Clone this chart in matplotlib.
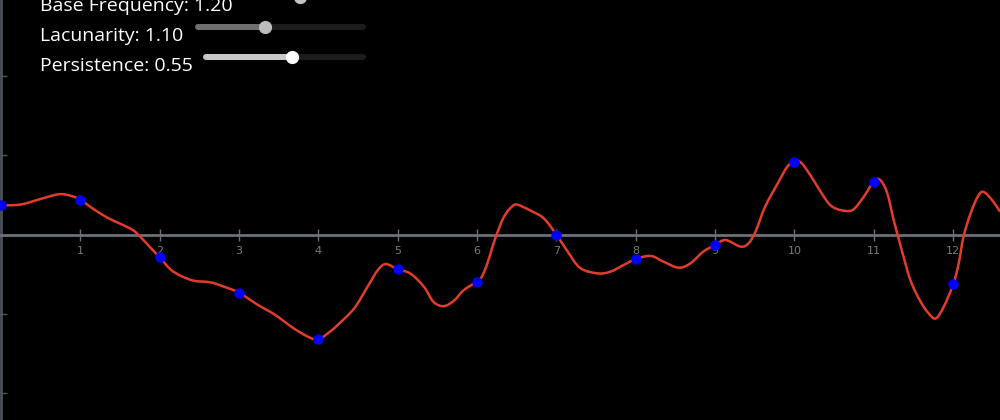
import numpy as np
import matplotlib
matplotlib.use("Agg")
import matplotlib.pyplot as plt
from matplotlib.path import Path
from matplotlib.patches import PathPatch

# noise curve (x, value)
curve_x = [0.00, 0.25, 0.50, 0.73, 0.88, 1.00, 1.17, 1.35, 1.51, 1.66, 1.76, 1.89,
           2.00, 2.14, 2.27, 2.43, 2.64, 2.81, 3.00, 3.24, 3.44, 3.69, 3.87, 4.00,
           4.16, 4.24, 4.45, 4.62, 4.75, 4.85, 5.00, 5.16, 5.33, 5.45, 5.58, 5.71,
           5.83, 6.00, 6.06, 6.13, 6.23, 6.34, 6.45, 6.52, 6.68, 6.84, 7.00, 7.14,
           7.30, 7.52, 7.68, 7.85, 8.00, 8.19, 8.35, 8.54, 8.69, 8.85, 9.00, 9.13,
           9.32, 9.42, 9.51, 9.63, 9.79, 9.91, 10.00, 10.08, 10.20, 10.33, 10.45,
           10.58, 10.73, 10.86, 11.00, 11.08, 11.17, 11.25, 11.34, 11.46, 11.59,
           11.69, 11.78, 11.88, 12.00, 12.07, 12.13, 12.22, 12.31, 12.38, 12.49, 12.59]
curve_y = [0.37, 0.38, 0.45, 0.51, 0.49, 0.44, 0.32, 0.21, 0.135, 0.06, -0.03, -0.17,
           -0.285, -0.44, -0.52, -0.58, -0.60, -0.655, -0.73, -0.886, -1.00, -1.18, -1.285, -1.32,
           -1.21, -1.14, -0.93, -0.655, -0.445, -0.37, -0.435, -0.49, -0.655, -0.845, -0.90, -0.83,
           -0.70, -0.59, -0.53, -0.36, -0.045, 0.227, 0.362, 0.374, 0.30, 0.207, 0.0, -0.21,
           -0.42, -0.487, -0.466, -0.38, -0.306, -0.268, -0.34, -0.416, -0.36, -0.214, -0.13, -0.067,
           -0.15, -0.11, 0.04, 0.353, 0.648, 0.857, 0.92, 0.91, 0.75, 0.54, 0.374,
           0.31, 0.31, 0.46, 0.668, 0.69, 0.52, 0.185, -0.15, -0.57, -0.845,
           -0.99, -1.055, -0.91, -0.626, -0.36, -0.025, 0.27, 0.48, 0.54, 0.437, 0.29]

# sample points at integer positions
point_x = list(range(13))
point_y = [0.37, 0.44, -0.285, -0.73, -1.31, -0.435, -0.59, 0.0, -0.306, -0.13, 0.92, 0.668, -0.626]

x_ticks = list(range(1, 13))
y_ticks = [-2, -1, 1, 2]

slider_labels = ["Base Frequency: 1.20", "Lacunarity: 1.10", "Persistence: 0.55"]


def smooth_path(xs, ys):
    # catmull-rom through the read points, as bezier segments
    pts = np.column_stack([xs, ys])
    n = len(pts)
    verts = [pts[0]]
    codes = [Path.MOVETO]
    for i in range(n - 1):
        p0 = pts[max(i - 1, 0)]
        p1 = pts[i]
        p2 = pts[i + 1]
        p3 = pts[min(i + 2, n - 1)]
        verts += [p1 + (p2 - p0) / 6, p2 - (p3 - p1) / 6, p2]
        codes += [Path.CURVE4] * 3
    return Path(verts, codes)


fig = plt.figure(figsize=(10, 4.2), dpi=100, facecolor="black")
ax = fig.add_axes([0, 0, 1, 1], facecolor="black")

ax.add_patch(PathPatch(smooth_path(curve_x, curve_y), fill=False, ec="#e23d2c",
                       lw=1.8, joinstyle="round", zorder=3))
ax.plot(point_x, point_y, "o", color="#0000ff", ms=6.5, zorder=4)

ax.set_xlim(-0.012, 12.59)
ax.set_ylim(-2.334, 2.956)

# axes through the origin
for s in ["top", "right"]:
    ax.spines[s].set_visible(False)
ax.spines["bottom"].set_position(("data", 0))
ax.spines["bottom"].set_color("#6b7079")
ax.spines["bottom"].set_linewidth(2)
ax.spines["left"].set_position(("data", 0))
ax.spines["left"].set_color("#4d525a")
ax.spines["left"].set_linewidth(2)

ax.set_xticks(x_ticks)
ax.set_yticks(y_ticks)
ax.set_yticklabels([])
ax.tick_params(axis="x", direction="inout", length=8, width=1, color="#6b7079",
               labelcolor="#7a7a7a", labelsize=8, pad=4)
ax.tick_params(axis="y", direction="inout", length=9, width=1, color="#4d525a")

# slider panel drawn in pixel space
ui = fig.add_axes([0, 0, 1, 1], facecolor="none")
ui.set_xlim(0, 1000)
ui.set_ylim(420, 0)
ui.axis("off")

baselines = [11, 41, 71]
for lab, yb in zip(slider_labels, baselines):
    ui.text(40, yb, lab, color="white", fontsize=14, family="Open Sans",
            weight="medium", va="baseline", ha="left")

# lacunarity slider
ui.plot([198, 363], [27, 27], color="#1c1c1c", lw=4.3, solid_capstyle="round")
ui.plot([198, 265], [27, 27], color="#707070", lw=4.3, solid_capstyle="round")
ui.plot([265], [27], "o", color="#bdbdbd", ms=8.5)
# persistence slider
ui.plot([206, 363], [57, 57], color="#1c1c1c", lw=4.3, solid_capstyle="round")
ui.plot([206, 292], [57, 57], color="#c8c8c8", lw=4.3, solid_capstyle="round")
ui.plot([292], [57], "o", color="white", ms=8.5)
# base frequency knob (mostly off-screen)
ui.plot([300], [-3], "o", color="#c4c4c4", ms=8.5)

fig.savefig("out.png", dpi=100, facecolor="black")
